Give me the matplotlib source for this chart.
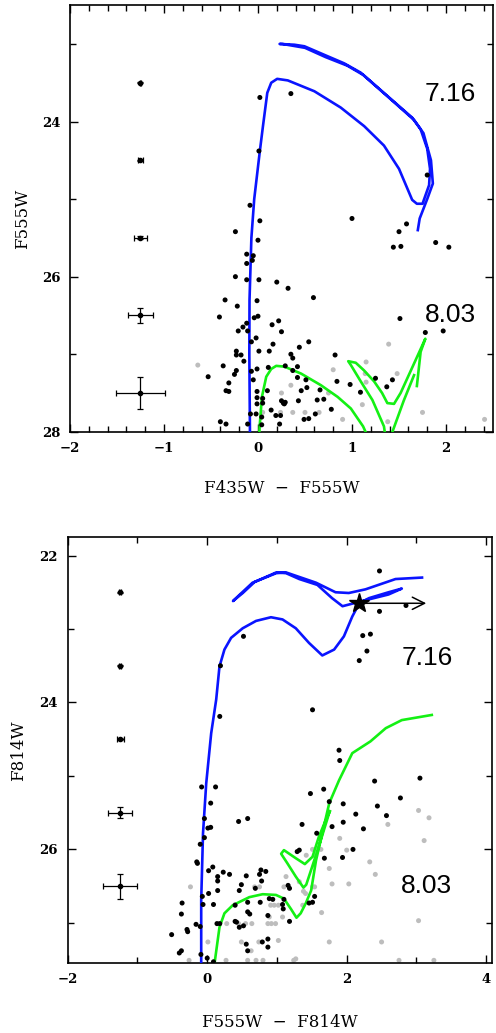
import numpy as np
import matplotlib.pyplot as plt

# ---- data ----

# top panel: F435W - F555W vs F555W
top_black = [
    (0.02, 23.69), (0.35, 23.64), (0.01, 24.38), (1.80, 24.69), (-0.085, 25.08),
    (0.02, 25.28), (1.00, 25.25), (-0.24, 25.42), (0.00, 25.53), (1.58, 25.32),
    (1.50, 25.42), (1.44, 25.62), (1.52, 25.61), (1.89, 25.56), (2.03, 25.62),
    (-0.12, 25.71), (-0.05, 25.73), (-0.06, 25.79), (-0.12, 25.83), (-0.24, 26.00),
    (-0.12, 26.04), (0.01, 26.04), (0.20, 26.07), (0.32, 26.15), (0.59, 26.27),
    (-0.35, 26.30), (-0.01, 26.31), (-0.22, 26.38), (-0.41, 26.52), (-0.04, 26.53),
    (0.00, 26.51), (1.51, 26.54), (0.22, 26.57), (0.15, 26.62), (-0.12, 26.60),
    (-0.11, 26.70), (-0.21, 26.70), (-0.16, 26.65), (0.25, 26.71), (1.78, 26.72),
    (1.97, 26.70), (-0.02, 26.79), (-0.07, 26.84), (0.54, 26.84), (0.16, 26.87),
    (0.44, 26.91), (-0.23, 26.96), (0.01, 26.96), (0.12, 26.96), (-0.23, 27.01),
    (-0.18, 27.01), (0.35, 27.00), (0.37, 27.05), (0.82, 27.01), (-0.15, 27.09),
    (-0.37, 27.15), (-0.01, 27.19), (0.11, 27.17), (0.29, 27.15), (0.42, 27.16),
    (0.37, 27.21), (-0.07, 27.22), (-0.23, 27.21), (-0.25, 27.26), (-0.53, 27.29),
    (-0.05, 27.33), (0.42, 27.30), (0.51, 27.33), (0.84, 27.35), (0.98, 27.39),
    (1.25, 27.31), (1.43, 27.33), (1.37, 27.42), (-0.31, 27.37), (0.52, 27.43),
    (-0.34, 27.47), (-0.31, 27.48), (-0.01, 27.48), (0.10, 27.47), (0.46, 27.47),
    (0.66, 27.46), (1.09, 27.49), (-0.01, 27.56), (0.05, 27.57), (0.63, 27.59),
    (0.70, 27.58), (0.25, 27.60), (0.27, 27.63), (0.29, 27.62), (0.43, 27.60),
    (-0.01, 27.64), (0.05, 27.63), (0.78, 27.71), (0.14, 27.72), (-0.08, 27.77),
    (-0.02, 27.77), (0.61, 27.77), (0.24, 27.79), (0.54, 27.83), (0.49, 27.84),
    (-0.40, 27.87), (-0.34, 27.90), (-0.11, 27.90), (0.04, 27.91), (0.23, 27.90),
    (0.04, 27.81), (0.28, 27.64), (0.19, 27.79),
]
top_gray = [
    (-0.64, 27.14), (0.80, 27.20), (1.15, 27.10), (1.14, 27.25), (1.48, 27.25),
    (1.39, 26.87), (1.15, 27.36), (0.35, 27.40), (0.25, 27.50), (0.75, 27.50),
    (1.11, 27.65), (0.05, 27.75), (0.24, 27.75), (0.37, 27.75), (0.50, 27.75),
    (0.65, 27.75), (0.90, 27.84), (1.38, 27.87), (1.75, 27.75), (2.41, 27.84),
]

# isochrones, top panel (nan = pen up)
top_iso716_x = [-0.085, -0.092, -0.09, -0.07, -0.04, 0.018, 0.053, 0.099, 0.141, 0.204,
                0.317, 0.60, 0.88, 1.13, 1.34, 1.50, 1.64, 1.69, 1.75, 1.82,
                1.83, 1.80, 1.73, 1.64, 1.376, 1.093, 0.917, 0.705, 0.494, 0.388,
                0.23, 0.26, 0.50, 0.72, 0.95, 1.12, 1.40, 1.66, 1.76, 1.84,
                1.86, 1.80, 1.72, 1.70]
top_iso716_y = [28.05, 27.0, 26.3, 25.5, 25.0, 24.40, 24.06, 23.63, 23.50, 23.45,
                23.47, 23.61, 23.82, 24.06, 24.31, 24.61, 25.01, 25.06, 25.06, 24.82,
                24.61, 24.35, 24.10, 23.95, 23.67, 23.37, 23.25, 23.14, 23.03, 23.01,
                23.00, 23.00, 23.05, 23.17, 23.28, 23.40, 23.70, 23.98, 24.15, 24.50,
                24.80, 25.00, 25.25, 25.40]
top_iso803_x = [0.01, 0.018, 0.042, 0.088, 0.141, 0.194, 0.282, 0.459, 0.67, 0.847,
                0.988, 1.118, 1.20, 1.30, 1.36, 1.34, 1.217, 1.093, 0.988, 0.96,
                1.04, 1.129, 1.235, 1.32, 1.376, 1.447, 1.517, 1.66, 1.78, 1.73,
                1.69, np.nan, 1.66, 1.55, 1.43, 1.40]
top_iso803_y = [28.1, 27.93, 27.55, 27.29, 27.19, 27.15, 27.16, 27.25, 27.40, 27.55,
                27.70, 27.93, 28.15, 28.2, 28.1, 27.93, 27.59, 27.35, 27.14, 27.09,
                27.11, 27.21, 27.35, 27.50, 27.63, 27.64, 27.50, 27.12, 26.80, 26.97,
                27.41, np.nan, 27.27, 27.60, 28.0, 28.1]

top_err_y = [23.5, 24.5, 25.5, 26.5, 27.5]
top_err_dx = [0.01, 0.03, 0.065, 0.13, 0.26]
top_err_dy = [0.005, 0.01, 0.02, 0.10, 0.21]

# bottom panel: F555W - F814W vs F814W
bot_black = [
    (2.47, 22.21), (2.85, 22.68), (2.47, 22.76), (2.23, 23.09), (2.34, 23.07),
    (2.29, 23.30), (2.18, 23.43), (0.52, 23.10), (0.19, 23.50), (0.18, 24.19),
    (1.51, 24.10), (1.89, 24.65), (1.90, 24.79), (2.40, 25.07), (3.05, 25.03),
    (-0.08, 25.15), (0.12, 25.15), (1.67, 25.18), (1.48, 25.24), (0.05, 25.37),
    (1.75, 25.35), (1.95, 25.38), (2.44, 25.41), (2.77, 25.30), (2.57, 25.54),
    (2.13, 25.52), (-0.04, 25.58), (0.45, 25.62), (0.58, 25.58), (0.01, 25.71),
    (0.05, 25.70), (1.36, 25.66), (1.95, 25.63), (1.79, 25.69), (2.24, 25.72),
    (1.57, 25.78), (-0.04, 25.84), (-0.10, 25.93), (1.29, 26.03), (1.32, 26.01),
    (2.09, 26.00), (1.94, 26.11), (1.68, 26.12), (-0.15, 26.17), (-0.14, 26.19),
    (0.02, 26.29), (0.08, 26.24), (0.15, 26.37), (0.15, 26.43), (0.23, 26.31),
    (0.32, 26.34), (0.56, 26.36), (0.77, 26.28), (0.75, 26.34), (0.84, 26.30),
    (0.78, 26.43), (0.49, 26.48), (0.46, 26.56), (0.15, 26.56), (0.69, 26.53),
    (0.02, 26.60), (-0.07, 26.64), (1.16, 26.49), (1.18, 26.53), (0.58, 26.72),
    (0.76, 26.72), (0.89, 26.67), (0.94, 26.68), (1.10, 26.68), (1.54, 26.64),
    (1.46, 26.73), (1.51, 26.72), (-0.36, 26.73), (0.09, 26.75), (-0.06, 26.75),
    (0.58, 26.85), (0.61, 26.88), (0.87, 26.90), (1.08, 26.75), (1.09, 26.81),
    (0.40, 26.76), (-0.37, 26.88), (-0.16, 27.02), (-0.10, 27.05), (0.14, 27.01),
    (0.18, 27.01), (0.40, 26.98), (0.42, 26.99), (0.52, 27.04), (0.46, 27.06),
    (1.18, 26.98), (-0.29, 27.09), (-0.28, 27.12), (-0.51, 27.16), (0.56, 27.29),
    (0.58, 27.38), (0.79, 27.26), (0.87, 27.22), (0.87, 27.33), (-0.37, 27.38),
    (-0.40, 27.41), (-0.09, 27.43), (0.00, 27.48), (0.09, 27.53),
]
bot_gray = [
    (3.03, 25.47), (3.18, 25.57), (2.59, 25.66), (1.90, 25.85), (3.11, 25.88),
    (1.51, 26.00), (1.63, 26.00), (2.00, 26.01), (1.42, 26.08), (2.33, 26.17),
    (1.75, 26.26), (2.41, 26.34), (1.13, 26.37), (1.32, 26.44), (1.79, 26.47),
    (2.03, 26.47), (1.51, 26.51), (1.54, 26.51), (1.10, 26.51), (-0.24, 26.51),
    (0.68, 26.51), (0.75, 26.51), (1.38, 26.57), (1.41, 26.60), (0.40, 26.75),
    (0.91, 26.76), (0.96, 26.76), (1.02, 26.76), (1.37, 26.76), (1.08, 26.92),
    (0.89, 26.92), (1.64, 26.86), (0.28, 27.01), (0.45, 27.01), (0.55, 27.01),
    (0.64, 27.01), (0.87, 27.01), (0.92, 27.01), (0.98, 27.01), (3.03, 26.97),
    (0.01, 27.26), (0.49, 27.26), (0.74, 27.26), (1.02, 27.24), (1.75, 27.26),
    (2.50, 27.26), (0.63, 27.38), (-0.26, 27.51), (0.27, 27.51), (0.58, 27.51),
    (0.70, 27.51), (0.80, 27.51), (1.24, 27.51), (1.27, 27.49), (2.75, 27.51),
    (3.25, 27.51),
]

bot_iso716_x = [-0.086, -0.086, -0.06, -0.014, 0.057, 0.129, 0.176, 0.247, 0.343, 0.509,
                0.70, 0.914, 1.08, 1.27, 1.46, 1.65, 1.82, 1.96, 2.08, 2.18,
                2.32, 2.60, 2.79, 2.60, 2.22, 1.94, 1.79, 1.58, 1.32, 1.13,
                0.99, 0.68, 0.51, 0.37, 0.39, 0.65, 0.99, 1.13, 1.56, 1.84,
                2.03, 2.27, 2.70, 3.08]
bot_iso716_y = [27.7, 26.69, 25.78, 25.10, 24.42, 23.96, 23.51, 23.28, 23.12, 22.99,
                22.89, 22.84, 22.87, 22.99, 23.19, 23.36, 23.28, 23.10, 22.83, 22.65,
                22.58, 22.50, 22.45, 22.53, 22.62, 22.69, 22.58, 22.40, 22.32, 22.24,
                22.23, 22.36, 22.51, 22.62, 22.60, 22.37, 22.24, 22.23, 22.37, 22.50,
                22.51, 22.46, 22.32, 22.30]
bot_iso803_x = [0.09, 0.104, 0.176, 0.247, 0.366, 0.604, 0.795, 0.986, 1.10, 1.20,
                1.28, 1.34, 1.41, 1.49, 1.56, 1.65, 1.75, 1.89, 2.08, 2.34,
                2.56, 2.79, 3.22, np.nan, 1.75, 1.62, 1.50, 1.42, 1.38, 1.27,
                1.15, 1.06, 1.10, 1.27, 1.40, 1.51, 1.60, 1.70, 1.76]
bot_iso803_y = [27.7, 27.56, 27.06, 26.87, 26.76, 26.65, 26.61, 26.62, 26.67, 26.81,
                26.93, 26.87, 26.74, 26.56, 26.15, 25.78, 25.37, 25.06, 24.69, 24.53,
                24.35, 24.24, 24.17, np.nan, 25.50, 25.90, 26.25, 26.48, 26.52, 26.37,
                26.19, 26.06, 26.01, 26.12, 26.20, 26.10, 25.83, 25.60, 25.48]

bot_err_y = [22.5, 23.5, 24.5, 25.5, 26.5]
bot_err_dx = [0.02, 0.02, 0.05, 0.17, 0.24]
bot_err_dy = [0.01, 0.01, 0.01, 0.075, 0.17]

star_xy = (2.17, 22.65)
star_arrow_end = 3.18

ages = ["7.16", "8.03"]

SERIF = "DejaVu Serif"
BLUE = "#0a14ff"
GREEN = "#14f014"
GRAY = "#bdbdbd"


def style_axes(ax, xmajor, xminor):
    ax.set_xticks(np.arange(-2, 4.01, xmajor))
    ax.set_xticks(np.arange(-2, 4.01, xminor), minor=True)
    ax.set_yticks(np.arange(20, 30, 2))
    ax.set_yticks(np.arange(20, 30, 1), minor=True)
    ax.tick_params(which="both", direction="in", top=True, right=True,
                   width=1.0, labelsize=9.5, pad=7)
    ax.tick_params(which="major", length=6)
    ax.tick_params(which="minor", length=4)
    for lab in ax.get_xticklabels() + ax.get_yticklabels():
        lab.set_fontfamily(SERIF)
        lab.set_fontweight("bold")
    for sp in ax.spines.values():
        sp.set_linewidth(1.2)


def draw_cmd(ax, black, gray, iso1, iso2, err):
    g = np.array(gray).T
    b = np.array(black).T
    ax.scatter(g[0], g[1], s=13, color=GRAY, edgecolors="none", zorder=2)
    ax.scatter(b[0], b[1], s=13, color="black", edgecolors="none", zorder=4)
    ax.plot(iso1[0], iso1[1], color=BLUE, lw=1.9, zorder=3)
    ax.plot(iso2[0], iso2[1], color=GREEN, lw=1.9, zorder=3)
    ey, edx, edy = err
    ax.errorbar([-1.25] * len(ey), ey, xerr=edx, yerr=edy, fmt="o", ms=3,
                color="black", ecolor="black", elinewidth=0.9, capsize=2,
                capthick=0.9, zorder=5)


def main():
    fig = plt.figure(figsize=(4.96, 10.33), dpi=100)

    # top panel
    ax1 = fig.add_axes([0.141, 0.582, 0.853, 0.413])
    draw_cmd(ax1, top_black, top_gray, (top_iso716_x, top_iso716_y),
             (top_iso803_x, top_iso803_y), (top_err_y, top_err_dx, top_err_dy))
    style_axes(ax1, 1, 0.2)
    ax1.set_xlim(-2, 2.5)
    ax1.set_ylim(28, 22.5)
    ax1.text(2.05, 23.65, ages[0], fontsize=19, family="Liberation Sans",
             ha="center", va="center")
    ax1.text(2.05, 26.5, ages[1], fontsize=19, family="Liberation Sans",
             ha="center", va="center")
    ax1.set_xlabel("F435W  \u2212  F555W", family=SERIF, fontsize=12, va="center")
    ax1.xaxis.set_label_coords(0.5, -0.132)
    ax1.set_ylabel("F555W", family=SERIF, fontsize=12, va="center")
    ax1.yaxis.set_label_coords(-0.112, 0.5)

    # bottom panel
    ax2 = fig.add_axes([0.1365, 0.0675, 0.855, 0.4125])
    draw_cmd(ax2, bot_black, bot_gray, (bot_iso716_x, bot_iso716_y),
             (bot_iso803_x, bot_iso803_y), (bot_err_y, bot_err_dx, bot_err_dy))
    ax2.plot(*star_xy, marker="*", ms=15, color="black", zorder=6)
    ax2.annotate("", xy=(star_arrow_end, star_xy[1]), xytext=star_xy,
                 arrowprops=dict(arrowstyle="->", color="black", lw=1.1,
                                 mutation_scale=22), zorder=6)
    style_axes(ax2, 2, 1)
    ax2.set_xlim(-2, 4.08)
    ax2.set_ylim(27.55, 21.75)
    ax2.text(3.15, 23.39, ages[0], fontsize=19, family="Liberation Sans",
             ha="center", va="center")
    ax2.text(3.15, 26.5, ages[1], fontsize=19, family="Liberation Sans",
             ha="center", va="center")
    ax2.set_xlabel("F555W  \u2212  F814W", family=SERIF, fontsize=12, va="center")
    ax2.xaxis.set_label_coords(0.5, -0.140)
    ax2.set_ylabel("F814W", family=SERIF, fontsize=12, va="center")
    ax2.yaxis.set_label_coords(-0.116, 0.5)

    fig.savefig("out.png", dpi=100)


if __name__ == "__main__":
    main()
